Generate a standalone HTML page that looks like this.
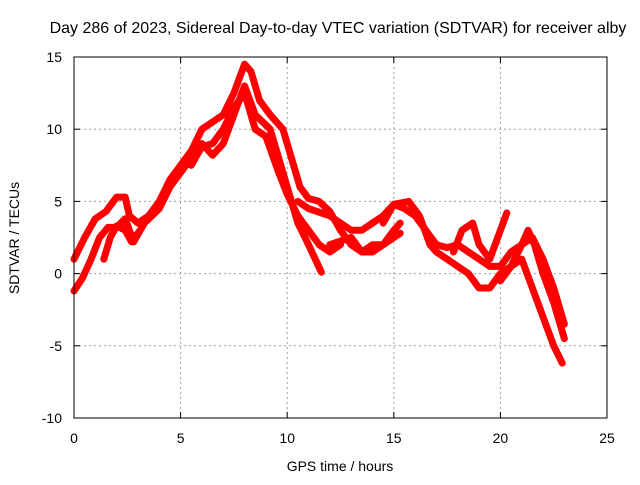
<!DOCTYPE html>
<html><head><meta charset="utf-8"><style>
body{margin:0;background:#fff}
text{font-family:"Liberation Sans",sans-serif;fill:#000}
</style></head><body>
<svg id="c" width="640" height="480">
<rect width="640" height="480" fill="#fff"/>
<g id="grid"></g>
<g id="series"></g>
<rect x="74" y="57" width="533" height="361" fill="none" stroke="#000" stroke-width="1"/>
<g id="ticks"></g>
<text x="338" y="33" text-anchor="middle" font-size="16">Day 286 of 2023, Sidereal Day-to-day VTEC variation (SDTVAR) for receiver alby</text>
<text x="340" y="471" text-anchor="middle" font-size="14">GPS time / hours</text>
<text transform="translate(19,238) rotate(-90)" text-anchor="middle" font-size="14">SDTVAR / TECUs</text>
</svg>
<script>
const xTicks=[0,5,10,15,20,25];
const yTicks=[-10,-5,0,5,10,15];
const track1=[[0,1],[0.5,2.5],[1,3.8],[1.5,4.3],[2,5.3],[2.4,5.3],[2.6,4],[3,3.5],[3.5,4],[4,5],[4.5,6.5],[5,7.5],[5.5,8.5],[6,10],[6.5,10.5],[7,11],[7.5,12.5],[8,14.5],[8.3,14],[8.7,12],[9.2,11],[9.8,10],[10.2,8],[10.6,6],[11,5.2],[11.5,5],[12,4.3],[12.5,3],[13,2],[13.5,1.5],[14,1.5],[14.5,2],[15,3],[15.3,3.5]];
const track2=[[0,-1.2],[0.4,-0.3],[0.8,1],[1.2,2.5],[1.6,3.2],[2,3.2],[2.4,3.8],[2.8,2.2],[3.3,3.5],[4,4.5],[4.5,6],[5,7],[5.5,8],[6,9],[6.5,8.2],[7,9],[7.5,11],[8,13],[8.5,11],[9.2,10],[9.6,8],[10,6],[10.5,3.5],[11,2],[11.6,0.1]];
const track3=[[5.5,7.5],[6,8.8],[6.5,9],[7,10],[7.5,11.5],[8,12.5],[8.5,10],[9,9.5],[9.6,7],[10,5.5],[10.5,4],[11,3],[11.5,2],[12,1.5],[12.5,2]];
const track4=[[10.5,5],[11,4.5],[12,4],[13,3],[13.5,3],[14,3.5],[14.5,4],[15,4.8],[15.5,4.5],[16,4],[16.5,3],[17,2],[17.5,1.8],[18,2],[18.5,1.5],[19,1],[19.5,0.5],[20,0.5],[20.5,1.5],[21,2],[21.5,2.5],[22,1],[22.5,-1],[23,-3.5]];
const track5=[[12,2],[13,2.5],[13.5,1.5],[14,2],[14.5,2],[15,2.5],[15.3,2.8]];
const track6=[[14.5,3.5],[15,4.8],[15.7,5],[16.2,4],[16.7,2],[17,1.5],[17.5,1],[18,0.5],[18.5,0],[19,-1],[19.5,-1],[20,0],[20.5,0.5],[21,1],[21.5,-1],[22,-3],[22.5,-5],[22.9,-6.2]];
const track7=[[17.8,1.5],[18.2,3],[18.7,3.5],[19,2],[19.5,1],[20,3],[20.3,4.2]];
const track8=[[20,-0.5],[20.5,0.5],[21,2],[21.3,3],[21.6,2],[22,0],[22.5,-2],[23,-4.5]];
const track9=[[1.4,1],[1.7,2.5],[2,3.3],[2.4,3],[2.7,2.2],[3.1,3]];
const tracks=[track1,track2,track3,track4,track5,track6,track7,track8,track9];
const NS='http://www.w3.org/2000/svg';
const X=v=>74+v*(533/25);
const Y=v=>418-(v+10)*(361/25);
const grid=document.getElementById('grid'),tk=document.getElementById('ticks'),sg=document.getElementById('series');
function mk(t,a,p){const e=document.createElementNS(NS,t);for(const k in a)e.setAttribute(k,a[k]);p.appendChild(e);return e;}
xTicks.forEach(v=>{
 if(v>0&&v<25){const l=mk('line',{x1:X(v),x2:X(v),y1:57,y2:418,stroke:'#a0a0a0','stroke-dasharray':'2,3'},grid);
 
 }
 mk('line',{x1:X(v),x2:X(v),y1:418,y2:412,stroke:'#000'},tk);
 mk('line',{x1:X(v),x2:X(v),y1:57,y2:63,stroke:'#000'},tk);
 const t=mk('text',{x:X(v),y:443,'text-anchor':'middle','font-size':14},tk);t.textContent=v;
 
 
});
yTicks.forEach(v=>{
 if(v>-10&&v<15){const l=mk('line',{x1:74,x2:607,y1:Y(v),y2:Y(v),stroke:'#a0a0a0','stroke-dasharray':'2,3'},grid);
 
 }
 mk('line',{x1:74,x2:80,y1:Y(v),y2:Y(v),stroke:'#000'},tk);
 mk('line',{x1:607,x2:601,y1:Y(v),y2:Y(v),stroke:'#000'},tk);
 const t=mk('text',{x:62,y:Y(v)+5,'text-anchor':'end','font-size':14},tk);t.textContent=v;
 
 
});
tracks.forEach((tr,i)=>{
 const p=mk('polyline',{points:tr.map(d=>X(d[0])+','+Y(d[1])).join(' '),fill:'none',stroke:'#ff0000','stroke-width':7,'stroke-linejoin':'round','stroke-linecap':'round'},sg);
 
 
});
</script>
</body></html>
